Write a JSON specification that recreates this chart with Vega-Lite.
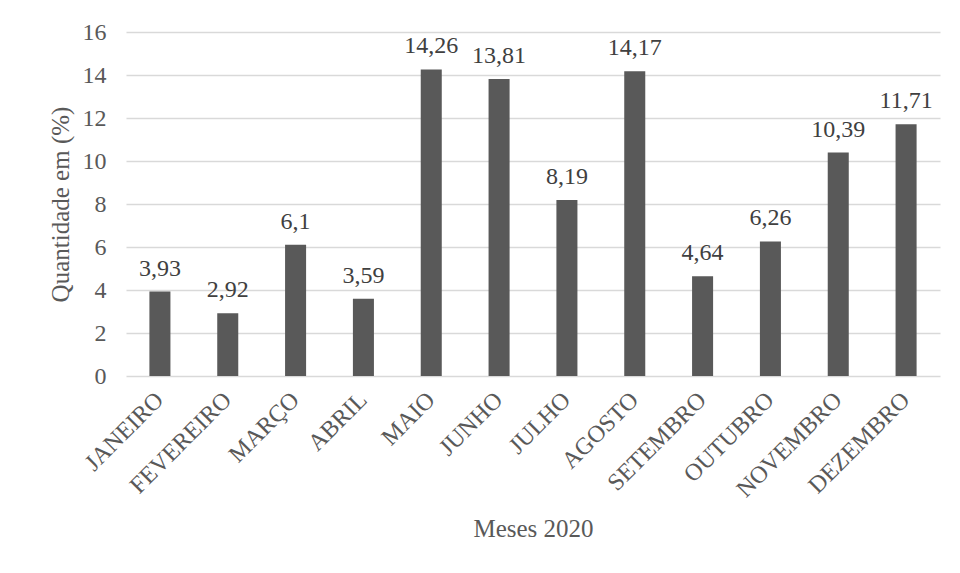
{
  "$schema": "https://vega.github.io/schema/vega-lite/v6.json",
  "width": 814,
  "height": 344,
  "autosize": {"type": "none"},
  "padding": {"left": 126, "top": 32, "right": 20, "bottom": 197},
  "background": "white",
  "data": {"values": [
    {"mes": "JANEIRO", "v": 3.93, "t": "3,93"},
    {"mes": "FEVEREIRO", "v": 2.92, "t": "2,92"},
    {"mes": "MARÇO", "v": 6.1, "t": "6,1"},
    {"mes": "ABRIL", "v": 3.59, "t": "3,59"},
    {"mes": "MAIO", "v": 14.26, "t": "14,26"},
    {"mes": "JUNHO", "v": 13.81, "t": "13,81"},
    {"mes": "JULHO", "v": 8.19, "t": "8,19"},
    {"mes": "AGOSTO", "v": 14.17, "t": "14,17"},
    {"mes": "SETEMBRO", "v": 4.64, "t": "4,64"},
    {"mes": "OUTUBRO", "v": 6.26, "t": "6,26"},
    {"mes": "NOVEMBRO", "v": 10.39, "t": "10,39"},
    {"mes": "DEZEMBRO", "v": 11.71, "t": "11,71"}
  ]},
  "config": {
    "view": {"stroke": null},
    "font": "Times New Roman, Liberation Serif, serif",
    "axis": {"labelFont": "Times New Roman, Liberation Serif, serif", "titleFont": "Times New Roman, Liberation Serif, serif", "labelColor": "#595959", "titleColor": "#595959", "labelFontSize": 24, "titleFontSize": 25, "titleFontWeight": "normal", "ticks": false, "domain": false, "gridColor": "#d9d9d9", "gridWidth": 1.3}
  },
  "encoding": {
    "x": {"field": "mes", "type": "nominal", "sort": null,
      "scale": {"paddingInner": 0.69, "paddingOuter": 0.345},
      "axis": {"title": "Meses 2020", "labelAngle": -45, "labelAlign": "right", "labelBaseline": "middle", "labelPadding": 20, "titlePadding": 15, "grid": false}},
    "y": {"field": "v", "type": "quantitative",
      "scale": {"domain": [0, 16], "nice": false},
      "axis": {"title": "Quantidade em (%)", "values": [0,2,4,6,8,10,12,14,16], "labelPadding": 20, "titlePadding": 9}}
  },
  "layer": [
    {"mark": {"type": "bar", "color": "#595959"}},
    {"mark": {"type": "text", "baseline": "alphabetic", "dy": -16, "fontSize": 24, "color": "#404040", "font": "Times New Roman, Liberation Serif, serif"},
     "encoding": {"text": {"field": "t"}}}
  ]
}
